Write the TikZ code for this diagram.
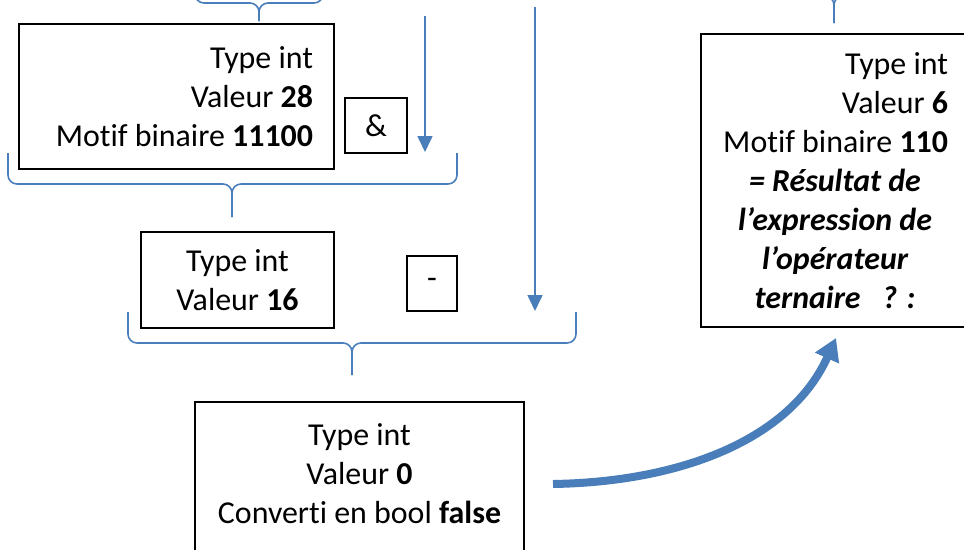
\documentclass[tikz,border=0pt]{standalone}
\usepackage{fontspec}
\setmainfont{Carlito}[Ligatures=NoCommon]
\usetikzlibrary{arrows.meta,calc}
\definecolor{linkblue}{RGB}{74,126,187}
% horizontal curly brace: x-left, x-right, x-tip, y-ends, y-bar, y-tip
\newcommand\drawbrace[6]{%
  \draw[brace] (#1,#4) -- (#1,#5) -- (#3,#5) -- (#3,#6);
  \draw[brace] (#2,#4) -- (#2,#5) -- (#3,#5) -- (#3,#6);}
\begin{document}
\begin{tikzpicture}[x=1pt,y=-1pt,
  every node/.style={font=\fontsize{31.9}{39}\selectfont},
  frame/.style={draw=black, line width=1.2pt, inner sep=0pt},
  brace/.style={draw=linkblue, line width=1.6pt, rounded corners=9pt},
  flow/.style={draw=linkblue, line width=1.6pt, -{Triangle[length=16pt,width=15pt]}},
  bigarrow/.style={draw=linkblue, line width=8pt, -{Triangle[length=22pt,width=25pt]}}]
\useasboundingbox (0,0) rectangle (964,549);
\clip (0,0) rectangle (964,549);

% operand boxes
\node[frame, minimum width=315, minimum height=145, text width=273, align=flush right]
  (box1) at (176.5,96.5) {Type int\\Valeur \textbf{28}\\Motif binaire \textbf{11100}};
\node[frame, minimum width=62, minimum height=55] (opand) at (376,125.5) {\&};
\node[frame, minimum width=193, minimum height=96, align=center]
  (box2) at (237.5,280) {Type int\\Valeur \textbf{16}};
\node[frame, minimum width=50, minimum height=55] (opminus) at (432,283.5) {-};
\node[align=center] (box3) at (359.5,474)
  {Type int\\Valeur \textbf{0}\\Converti en bool \textbf{false}};
\draw[frame] ($(box3.center)+(-164.5,-72)$) rectangle ($(box3.center)+(164.5,88)$);
\node[frame, minimum width=268, minimum height=293, text width=226, align=flush center]
  (box4) at (835,180.5)
  {\makebox[\linewidth][r]{Type int}\\
   \makebox[\linewidth][r]{Valeur \textbf{6}}\\
   \makebox[\linewidth][r]{Motif binaire \textbf{110}}\\
   {\bfseries\itshape = Résultat de}\\
   {\bfseries\itshape l’expression de}\\
   {\bfseries\itshape l’opérateur}\\
   {\bfseries\itshape ternaire\ \ \ ? :}};

% braces grouping the operands
\drawbrace{195}{323}{259}{-40}{3}{21}
\drawbrace{8}{457}{232}{153}{184}{217}
\drawbrace{128}{576}{352}{312}{343}{375}
\drawbrace{700}{968}{834}{-40}{-4}{23}

% incoming operands
\coordinate (a1s) at (425,16);
\coordinate (a1e) at (425,152);
\draw[flow] (a1s) -- (a1e);
\coordinate (a2s) at (535,7);
\coordinate (a2e) at (535,311);
\draw[flow] (a2s) -- (a2e);

% result of the condition feeds the ternary operator
\coordinate (cs) at (553,484);
\coordinate (ce) at (836,338);
\draw[bigarrow] (cs) .. controls (680,482) and (790,440) .. (ce);
\end{tikzpicture}
\end{document}
